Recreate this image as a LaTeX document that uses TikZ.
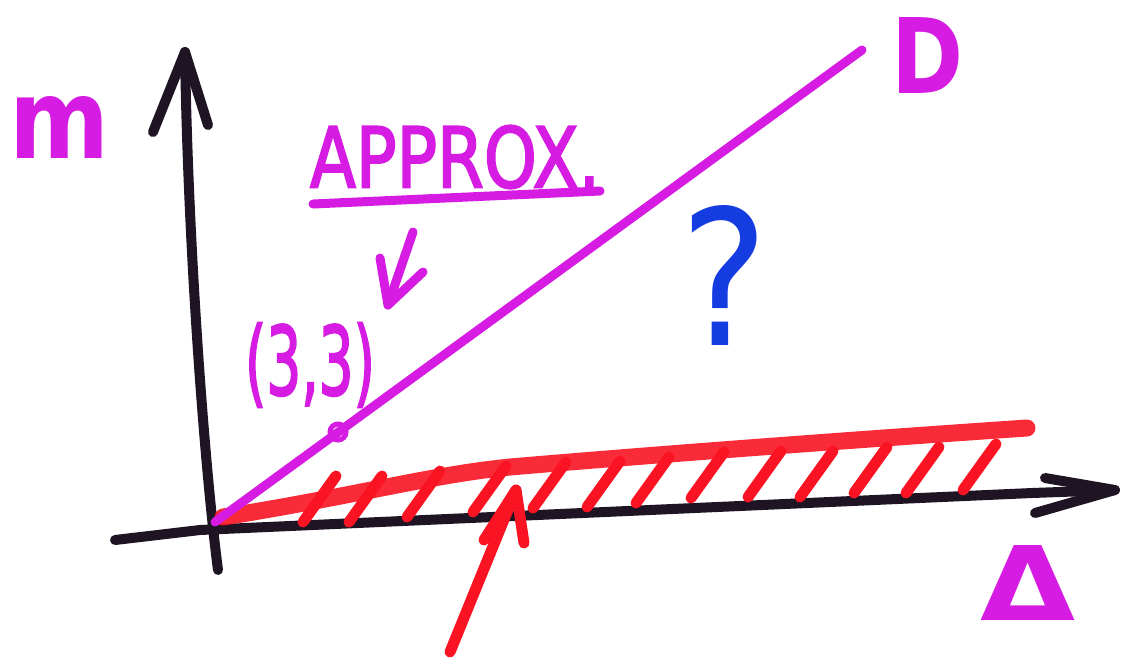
\documentclass[tikz,border=0pt]{standalone}
\usepackage{fontspec}
\usepackage{graphicx}
\setmainfont{DejaVu Sans}
\newfontfamily\markerfont{DejaVu Sans}[FakeBold=2.5]
\definecolor{mag}{RGB}{214,28,226}
\definecolor{mred}{RGB}{250,20,35}
\definecolor{ink}{RGB}{30,20,35}
\definecolor{mblue}{RGB}{20,60,225}
\tikzset{
  axis/.style={ink,line width=10pt,line cap=round,line join=round},
  magline/.style={mag,line width=9pt,line cap=round,line join=round},
  redline/.style={mred,line width=17pt,line cap=round,line join=round,opacity=0.9},
  hatch/.style={mred,line width=11pt,line cap=round,line join=round},
  lbl/.style={inner sep=0pt}
}
\begin{document}
\begin{tikzpicture}[x=1pt,y=-1pt]
\useasboundingbox (0,0) rectangle (1121,657);
\fill[white] (0,0) rectangle (1121,657);
% coordinates
\coordinate (O) at (215,522);
\coordinate (ytop) at (185,52);
\coordinate (ybot) at (218,570);
\coordinate (xleft) at (115,540);
\coordinate (xtip) at (1115,490);
\coordinate (Dend) at (862,50);
% y axis
\draw[axis] (ybot) .. controls (205,470) and (188,250) .. (ytop);
\draw[axis] (153,132) -- (ytop) -- (208,125);
% x axis
\draw[axis] (xleft) -- (200,530) -- (1032,493) -- (xtip);
\draw[axis] (1045,478) -- (xtip) -- (1035,513);
% red region
\draw[redline] (223,517) .. controls (360,495) and (430,475) .. (510,467) .. controls (650,455) and (850,440) .. (1027,428);
\foreach \a/\b in {303/522,349/522,407/517,473/512,533/508,587/507,636/503,691/498,748/497,800/497,854/493,906/493,963/490}{
  \draw[hatch] (\a,\b) -- ++(33,-46);
}
% red arrow
\coordinate (rtail) at (450,652);
\coordinate (rtip) at (516,490);
\draw[hatch] (rtail) -- (rtip);
\draw[hatch] (484,540) -- (rtip) -- (524,543);
% magenta line
\draw[magline] (O) -- (Dend);
\node[draw=mag,line width=5pt,circle,minimum size=16pt,inner sep=0pt] (pt) at (338,432) {};
% labels
\node[lbl,text=mag] (m) at (60,127) {\resizebox{100pt}{62pt}{\bfseries m}};
\node[lbl,text=mag] (D) at (928,55) {\resizebox{72pt}{76pt}{\bfseries D}};
\node[lbl,text=mag] (approx) at (455,157) {\resizebox{290pt}{62pt}{\markerfont APPROX.}};
\draw[magline] (313,204) -- (600,191);
\node[lbl,text=mag] (pt33) at (310,365) {\resizebox{130pt}{72pt}{\markerfont (3,3)}};
\coordinate (arrs) at (413,232);
\draw[magline] (arrs) -- (388,305);
\draw[magline] (380,258) -- (388,305) -- (423,272);
\node[lbl,text=mblue] (q) at (725,275) {\resizebox{88pt}{140pt}{?}};
\node[lbl,text=mag] (delta) at (1028,583) {\resizebox{95pt}{75pt}{\bfseries Δ}};
\end{tikzpicture}
\end{document}
